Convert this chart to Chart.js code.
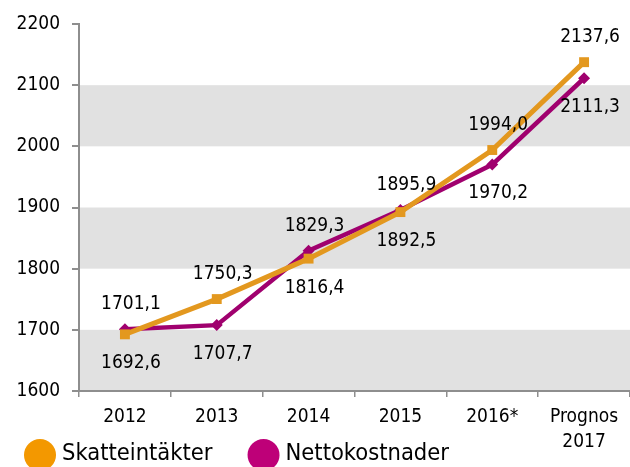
<!doctype html>
<html>

<head>
	<title>Skatteintäkter och nettokostnader</title>
	<script src="https://cdn.jsdelivr.net/npm/chart.js@4/dist/chart.umd.min.js"></script>
	<style>
		body { margin: 0; background: #fff; }
	</style>
</head>

<body>
	<canvas id="chart-area" width="630" height="467"></canvas>
	<script>
		// values (mnkr)
		var categories = ['2012', '2013', '2014', '2015', '2016*', ['Prognos', '2017']];
		var skatteintakter = [1692.6, 1750.3, 1816.4, 1892.5, 1994.0, 2137.6];
		var nettokostnader = [1701.1, 1707.7, 1829.3, 1895.9, 1970.2, 2111.3];
		var yMin = 1600, yMax = 2200, yStep = 100;

		var FONT = '"DejaVu Sans Condensed", "DejaVu Sans", sans-serif';
		var AXIS = '#8e8e8e';
		var TEXT = '#000';

		// grey bands every other step
		var bands = {
			id: 'bands',
			beforeDraw: function(chart) {
				var ctx = chart.ctx, a = chart.chartArea, y = chart.scales.y;
				ctx.save();
				ctx.fillStyle = '#e1e1e1';
				for (var v = yMin; v < yMax; v += 2 * yStep) {
					var top = y.getPixelForValue(v + yStep);
					var bottom = y.getPixelForValue(v);
					ctx.fillRect(a.left, top, chart.width - a.left, bottom - top);
				}
				ctx.restore();
			}
		};

		// value labels: the higher series above its point, the lower below
		var valueLabels = {
			id: 'valueLabels',
			afterDatasetsDraw: function(chart) {
				var ctx = chart.ctx;
				var sets = chart.data.datasets;
				ctx.save();
				ctx.font = '19px ' + FONT;
				ctx.fillStyle = TEXT;
				ctx.textAlign = 'center';
				ctx.textBaseline = 'middle';
				sets.forEach(function(ds, d) {
					var other = sets[1 - d].data;
					chart.getDatasetMeta(d).data.forEach(function(pt, i) {
						var v = ds.data[i];
						var above = v >= other[i];
						var txt = v.toFixed(1).replace('.', ',');
						ctx.fillText(txt, pt.x + 6, pt.y + (above ? -25 : 29));
					});
				});
				ctx.restore();
			}
		};

		// legend with big filled circles
		var circleLegend = {
			id: 'circleLegend',
			afterDraw: function(chart) {
				var ctx = chart.ctx;
				var x = 24, y = 454;
				ctx.save();
				ctx.font = '23.5px ' + FONT;
				ctx.textBaseline = 'middle';
				chart.data.datasets.forEach(function(ds) {
					ctx.fillStyle = ds.legendColor;
					ctx.beginPath();
					ctx.arc(x + 16, y + 1, 16, 0, Math.PI * 2);
					ctx.fill();
					ctx.fillStyle = TEXT;
					ctx.fillText(ds.label, x + 38, y);
					x += 38 + ctx.measureText(ds.label).width + 35;
				});
				ctx.restore();
			}
		};

		var config = {
			type: 'line',
			data: {
				labels: categories,
				datasets: [{
					label: 'Skatteintäkter',
					data: skatteintakter,
					borderColor: '#e3981f',
					backgroundColor: '#e3981f',
					legendColor: '#f39800',
					borderWidth: 5,
					pointStyle: 'rect',
					pointRadius: 7,
					pointBorderWidth: 0,
					tension: 0
				}, {
					label: 'Nettokostnader',
					data: nettokostnader,
					borderColor: '#a0006e',
					backgroundColor: '#a0006e',
					legendColor: '#be0078',
					borderWidth: 4.5,
					pointStyle: 'rectRot',
					pointRadius: 6,
					pointBorderWidth: 0,
					tension: 0
				}]
			},
			options: {
				responsive: false,
				animation: false,
				devicePixelRatio: 1,
				layout: {
					autoPadding: false,
					padding: { left: 15, right: 0, top: 24, bottom: 0 }
				},
				plugins: {
					legend: { display: false },
					tooltip: { enabled: false }
				},
				scales: {
					x: {
						offset: true,
						grid: {
							offset: true,
							drawOnChartArea: false,
							tickLength: 6,
							color: AXIS,
							lineWidth: 1.5
						},
						border: { color: AXIS, width: 2 },
						ticks: {
							autoSkip: false,
							maxRotation: 0,
							padding: 8,
							color: TEXT,
							font: { family: FONT, size: 19, lineHeight: 1.29 }
						},
						afterFit: function(scale) {
							scale.height = 76;
							scale.paddingLeft = 0;
							scale.paddingRight = 0;
						}
					},
					y: {
						min: yMin,
						max: yMax,
						ticks: {
							stepSize: yStep,
							padding: 12,
							color: TEXT,
							font: { family: FONT, size: 19 },
							callback: function(v) { return String(v); }
						},
						grid: {
							drawOnChartArea: false,
							tickLength: 7,
							color: AXIS,
							lineWidth: 2
						},
						border: { color: AXIS, width: 2 },
						afterFit: function(scale) { scale.width = 64; }
					}
				}
			},
			plugins: [bands, valueLabels, circleLegend]
		};

		window.onload = function() {
			var ctx = document.getElementById('chart-area').getContext('2d');
			window.myLine = new Chart(ctx, config);
		};
	</script>
</body>

</html>
